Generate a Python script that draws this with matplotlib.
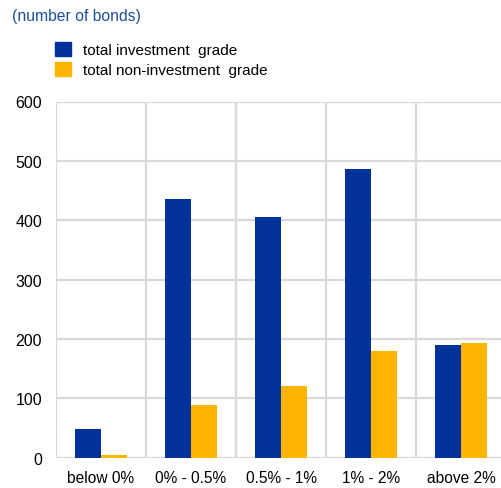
import matplotlib
matplotlib.use('Agg')
import matplotlib.pyplot as plt
from matplotlib.patches import Patch
import numpy as np

plt.rcParams['font.family'] = ['Liberation Sans', 'DejaVu Sans']

categories = ['below 0%', '0% - 0.5%', '0.5% - 1%', '1% - 2%', 'above 2%']
investment_grade = [48, 436, 405, 486, 190]
non_investment_grade = [5, 89, 120, 180, 193]
series_labels = ['total investment  grade', 'total non-investment  grade']
yticks = [0, 100, 200, 300, 400, 500, 600]

blue = '#003299'
yellow = '#ffb400'
grid_col = '#d9d9d9'

W, H = 502, 489
fig = plt.figure(figsize=(W / 100, H / 100), dpi=100)
ax = fig.add_axes([56 / W, 30.3 / H, 450 / W, 356.2 / H])

x = np.arange(len(categories))
w = 0.29
ax.bar(x - w / 2, investment_grade, w, color=blue, zorder=3)
ax.bar(x + w / 2, non_investment_grade, w, color=yellow, zorder=3)

ax.set_xlim(-0.5, len(categories) - 0.5)
ax.set_ylim(0, 600)
ax.set_yticks(yticks)
ax.set_xticks(x)
ax.set_xticklabels(categories)
# category separators drawn as minor-tick grid lines
ax.set_xticks(np.arange(-0.5, len(categories)), minor=True)

ax.grid(axis='y', color=grid_col, linewidth=1.6, zorder=0)
ax.grid(axis='x', which='minor', color=grid_col, linewidth=1.6, zorder=0)
ax.grid(axis='x', which='major', visible=False)
for s in ax.spines.values():
    s.set_visible(False)
ax.tick_params(which='both', length=0)
ax.tick_params(axis='y', labelsize=11.5, pad=10, colors='#000000')
ax.tick_params(axis='x', labelsize=11.2, pad=9)

fig.text(12 / W, 1 - 16.5 / H, '(number of bonds)', color='#1f4e9c',
         fontsize=11.3, va='center', ha='left')

handles = [Patch(color=blue), Patch(color=yellow)]
fig.legend(handles, series_labels, loc='upper left',
           bbox_to_anchor=(49 / W, 1 - 37 / H), frameon=False,
           fontsize=11, handlelength=1.05, handleheight=1.05,
           handletextpad=0.8, labelspacing=0.3, borderaxespad=0)

fig.savefig('out.png', dpi=100)
